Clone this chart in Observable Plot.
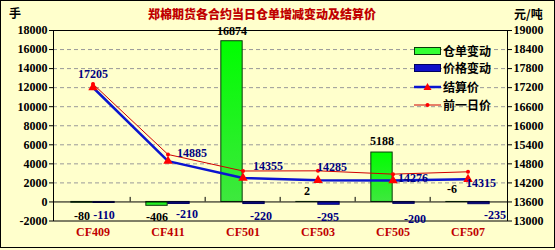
<!DOCTYPE html>
<html><head><meta charset="utf-8">
<script src="https://cdn.jsdelivr.net/npm/d3@7"></script>
<script src="https://cdn.jsdelivr.net/npm/@observablehq/plot@0.6"></script>
<style>
body{margin:0;background:#fff;}
#wrap{position:relative;width:555px;height:250px;background:#ffffcc;overflow:hidden;
  font-family:"Liberation Serif","Noto Sans CJK SC",serif;font-weight:bold;}
#border{position:absolute;left:0;top:0;width:555px;height:248px;box-sizing:border-box;border:1px solid #000;pointer-events:none;}
#wrap svg{position:absolute;left:0;top:0;}
.abs{position:absolute;white-space:nowrap;line-height:1;}
#title{left:262px;top:8px;transform:translateX(-50%);color:#c00000;font-size:12px;font-family:"Noto Sans CJK SC",sans-serif;font-weight:900;}
#unitL{left:9px;top:7px;font-size:12px;font-family:"Noto Sans CJK SC",sans-serif;}
#unitR{left:514px;top:8px;font-size:12px;font-family:"Noto Sans CJK SC",sans-serif;}
.lg{position:absolute;left:414px;width:90px;height:14px;}
.lg span{position:absolute;left:29px;top:0;font-size:12px;font-family:"Noto Sans CJK SC",sans-serif;font-weight:bold;line-height:14px;}
.lg svg{position:absolute;left:0;top:0;}
</style></head><body>
<div id="wrap">
  <div id="title" class="abs">郑棉期货各合约当日仓单增减变动及结算价</div>
  <div id="unitL" class="abs">手</div>
  <div id="unitR" class="abs">元/吨</div>
  <div id="legend"></div>
  <div id="border"></div>
</div>
<script>
const categories = ["CF409","CF411","CF501","CF503","CF505","CF507"];
const receiptChange = [-80, -406, 16874, 2, 5188, -6];
const priceChange = [-110, -210, -220, -295, -200, -235];
const settlePrice = [17205, 14885, 14355, 14285, 14276, 14315];
const prevPrice = [17315, 15095, 14575, 14580, 14476, 14550];
const leftTicks = [-2000, 0, 2000, 4000, 6000, 8000, 10000, 12000, 14000, 16000, 18000];
const rightTicks = [13000, 13600, 14200, 14800, 15400, 16000, 16600, 17200, 17800, 18400, 19000];

// right axis (元/吨) maps linearly onto the left axis domain
const toLeft = p => (p - 13000) / 0.3 - 2000;

const idx = categories.map((_, i) => i);
const bw = 454 / 6;
const half = bw / 2;
const barW = 22;

// label offsets (styling)
const settleOff = [[0,-13],[24,-8],[25,-12],[14,-13],[20,-2],[13,4]];
const greenOff = [[0,13],[0,11],[0,-10],[0,-11],[0,-11],[-5,-13]];
const blueOff = [[0,12],[8,10],[7,12],[-1,12],[11,15],[16,11]];

const font = "'Liberation Serif', 'DejaVu Serif', serif";
const marks = [
  Plot.gridY(leftTicks.filter(d => d !== 0 && d !== -2000 && d !== 18000), {stroke: "#999", strokeOpacity: 1, strokeDasharray: "4,3"}),
  Plot.barY(idx, {x: i => categories[i], y1: 0, y2: i => receiptChange[i], insetLeft: half - barW, insetRight: half, fill: "url(#gGreen)", stroke: "#0a3a0a", strokeWidth: 1}),
  Plot.barY(idx, {x: i => categories[i], y1: 0, y2: i => priceChange[i], insetLeft: half, insetRight: half - barW, fill: "#1010c8", stroke: "#000060", strokeWidth: 1}),
  Plot.ruleY([0], {stroke: "#000", strokeWidth: 1}),
  Plot.ruleX(categories.slice(1), {x: d => d, dx: -half, y1: 0, y2: 480, stroke: "#000"}),
  Plot.frame({stroke: "#000", strokeWidth: 1}),
  Plot.axisY(leftTicks, {anchor: "left", tickSize: 4, tickPadding: 2, tickFormat: d => String(d), fontSize: 12, fontWeight: "bold", fontFamily: font}),
  Plot.axisY(rightTicks.map(toLeft), {anchor: "right", tickSize: 4, tickPadding: 2, tickFormat: (d, i) => String(rightTicks[i]), fontSize: 12, fontWeight: "bold", fontFamily: font}),
  Plot.text(categories, {x: d => d, frameAnchor: "bottom", dy: 15, fill: "#c00000", fontSize: 12, fontWeight: "bold", fontFamily: font}),
  Plot.line(idx, {x: i => categories[i], y: i => toLeft(settlePrice[i]), stroke: "#0a14d0", strokeWidth: 2.5}),
  Plot.line(idx, {x: i => categories[i], y: i => toLeft(prevPrice[i]), stroke: "#d00000", strokeWidth: 1}),
  Plot.dot(idx, {x: i => categories[i], y: i => toLeft(prevPrice[i]), r: 2, fill: "#ff0000", stroke: "none"}),
  Plot.dot(idx, {x: i => categories[i], y: i => toLeft(settlePrice[i]), symbol: "triangle", r: 3.5, fill: "#ff0000", stroke: "none"}),
];
idx.forEach(i => {
  marks.push(Plot.text([i], {x: j => categories[j], y: j => toLeft(settlePrice[j]), text: j => String(settlePrice[j]), dx: settleOff[i][0], dy: settleOff[i][1], fill: "#000080", fontSize: 12, fontWeight: "bold", fontFamily: font}));
  marks.push(Plot.text([i], {x: j => categories[j], y: j => receiptChange[j], text: j => String(receiptChange[j]), dx: -barW/2 + greenOff[i][0], dy: greenOff[i][1], fill: "#000", fontSize: 12, fontWeight: "bold", fontFamily: font}));
  marks.push(Plot.text([i], {x: j => categories[j], y: j => priceChange[j], text: j => String(priceChange[j]), dx: barW/2 + blueOff[i][0], dy: blueOff[i][1], fill: "#000080", fontSize: 12, fontWeight: "bold", fontFamily: font}));
});

const chart = Plot.plot({
  width: 555, height: 250,
  marginLeft: 53, marginRight: 48, marginTop: 30, marginBottom: 29.5,
  style: {background: "transparent", fontSize: "12px", fontFamily: font, color: "#000", overflow: "visible"},
  x: {type: "band", domain: categories, padding: 0, axis: null},
  y: {domain: [-2000, 18000], axis: null},
  marks
});
d3.select(chart).insert("defs", ":first-child").html(
  '<linearGradient id="gGreen" x1="0" y1="0" x2="0" y2="1"><stop offset="0" stop-color="#00ff00"/><stop offset="0.25" stop-color="#10f810"/><stop offset="1" stop-color="#3ee83e"/></linearGradient>'
);
const wrap = document.getElementById("wrap");
wrap.insertBefore(chart, document.getElementById("title"));

// legend
const legendItems = [
  {label: "仓单变动", svg: '<rect x="0.5" y="3.5" width="26" height="7" fill="#33ff33" stroke="#0a3a0a"/>'},
  {label: "价格变动", svg: '<rect x="0.5" y="3.5" width="26" height="7" fill="#1010c8" stroke="#000060"/>'},
  {label: "结算价", svg: '<line x1="0" y1="7" x2="27" y2="7" stroke="#0a14d0" stroke-width="2.5"/><path d="M13.5,3 L17.5,10 L9.5,10 Z" fill="#ff0000"/>'},
  {label: "前一日价", svg: '<line x1="0" y1="7" x2="27" y2="7" stroke="#d00000" stroke-width="1"/><circle cx="13.5" cy="7" r="2" fill="#ff0000"/>'}
];
const rowsY = [44, 61, 80, 98];
const lg = document.getElementById("legend");
legendItems.forEach((it, k) => {
  const d = document.createElement("div");
  d.className = "lg";
  d.style.top = rowsY[k] + "px";
  d.innerHTML = '<svg width="28" height="14">' + it.svg + '</svg><span>' + it.label + '</span>';
  lg.appendChild(d);
});
</script>
</body></html>
